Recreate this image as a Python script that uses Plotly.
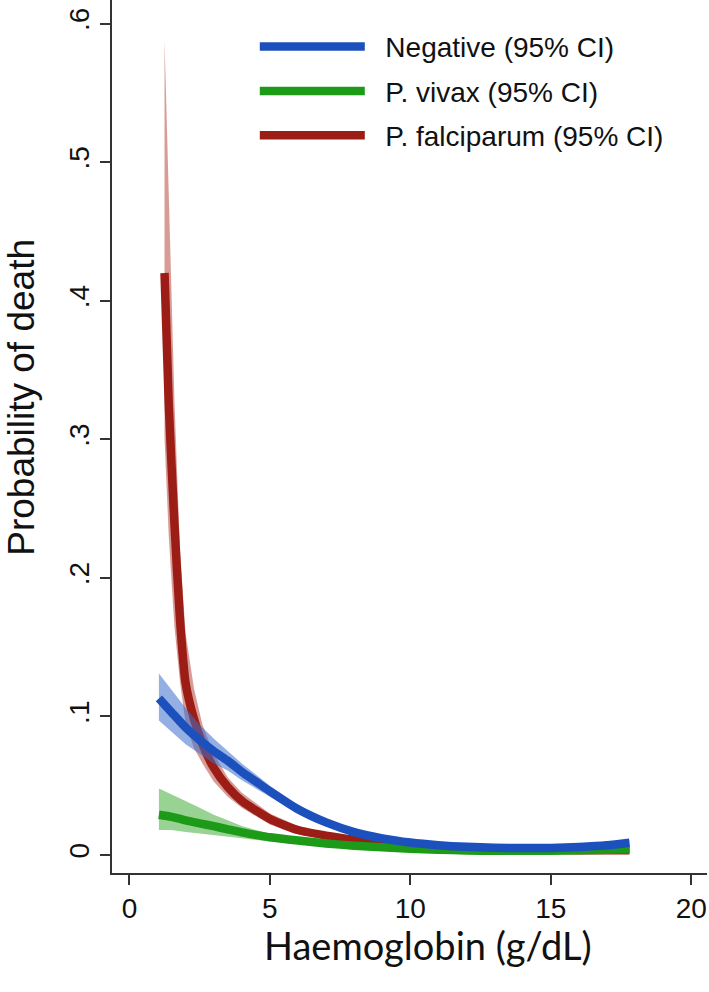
import plotly.graph_objects as go

# ── 数据──
hb_red = [1.25, 1.4, 1.6, 1.8, 2.0, 2.3, 2.6, 3.0, 3.5, 4.0, 5.0, 6.0, 7.0, 8.0, 9.0, 10.0, 12.0, 14.0, 16.0, 17.8]
pf_mean = [0.420, 0.325, 0.240, 0.170, 0.124, 0.098, 0.080, 0.063, 0.049, 0.039, 0.026, 0.018, 0.014, 0.011, 0.0085, 0.007, 0.005, 0.004, 0.0035, 0.0035]
pf_upper = [0.588, 0.470, 0.330, 0.220, 0.160, 0.120, 0.094, 0.073, 0.056, 0.045, 0.030, 0.021, 0.016, 0.0125, 0.0098, 0.008, 0.006, 0.005, 0.0048, 0.0055]
pf_lower = [0.300, 0.230, 0.165, 0.125, 0.095, 0.077, 0.066, 0.053, 0.042, 0.034, 0.022, 0.015, 0.012, 0.0095, 0.0074, 0.006, 0.004, 0.003, 0.0025, 0.002]

hb = [1.05, 1.5, 2.0, 2.5, 3.0, 3.5, 4.0, 4.5, 5.0, 6.0, 7.0, 8.0, 9.0, 10.0, 11.0, 12.0, 13.0, 14.0, 15.0, 16.0, 17.0, 17.8]
neg_mean = [0.113, 0.103, 0.092, 0.083, 0.075, 0.068, 0.060, 0.053, 0.046, 0.033, 0.0235, 0.0165, 0.012, 0.0090, 0.0071, 0.0059, 0.0053, 0.0050, 0.0051, 0.0058, 0.0070, 0.0088]
neg_upper = [0.131, 0.119, 0.106, 0.094, 0.084, 0.075, 0.066, 0.058, 0.050, 0.036, 0.026, 0.0185, 0.0135, 0.0102, 0.0081, 0.0068, 0.0062, 0.006, 0.0061, 0.007, 0.0088, 0.011]
neg_lower = [0.097, 0.089, 0.080, 0.073, 0.066, 0.061, 0.054, 0.048, 0.042, 0.030, 0.021, 0.0145, 0.0105, 0.0078, 0.0061, 0.0050, 0.0045, 0.0042, 0.0042, 0.0047, 0.0055, 0.0068]

pv_mean = [0.029, 0.0275, 0.025, 0.0228, 0.0208, 0.0185, 0.0163, 0.0145, 0.0128, 0.0104, 0.0083, 0.0067, 0.0055, 0.0045, 0.0038, 0.0033, 0.0030, 0.0030, 0.0031, 0.0034, 0.0038, 0.0042]
pv_upper = [0.048, 0.044, 0.039, 0.034, 0.029, 0.025, 0.021, 0.018, 0.0155, 0.0125, 0.0098, 0.008, 0.0066, 0.0055, 0.0047, 0.0041, 0.0038, 0.0038, 0.004, 0.0045, 0.0054, 0.0063]
pv_lower = [0.018, 0.018, 0.0165, 0.0155, 0.0145, 0.0133, 0.012, 0.0108, 0.0097, 0.0083, 0.0067, 0.0055, 0.0045, 0.0037, 0.0031, 0.0026, 0.0023, 0.0023, 0.0023, 0.0025, 0.0027, 0.0029]

y_ticks = [0, 0.1, 0.2, 0.3, 0.4, 0.5, 0.6]
y_ticktext = ["0", ".1", ".2", ".3", ".4", ".5", ".6"]
x_ticks = [0, 5, 10, 15, 20]

# 绘制顺序：红 → 绿 → 蓝（蓝色在最上层）
series = [
    ("P. falciparum (95% CI)", hb_red, pf_mean, pf_upper, pf_lower, "#9c1d15", "rgba(190,90,82,0.6)", "g3"),
    ("P. vivax (95% CI)", hb, pv_mean, pv_upper, pv_lower, "#1c9a18", "rgba(70,175,60,0.55)", "g2"),
    ("Negative (95% CI)", hb, neg_mean, neg_upper, neg_lower, "#1c50bd", "rgba(60,110,205,0.55)", "g1"),
]
legend_rank = {"g1": 1, "g2": 2, "g3": 3}

fig = go.Figure()

for name, x, mean, up, lo, color, band, grp in series:
    # 置信区间带
    fig.add_trace(go.Scatter(
        x=list(x) + list(x)[::-1],
        y=list(up) + list(lo)[::-1],
        fill="toself",
        fillcolor=band,
        line=dict(width=0),
        mode="lines",
        showlegend=False,
        hoverinfo="skip",
        legendgroup=grp,
    ))
    # 预测曲线
    fig.add_trace(go.Scatter(
        x=x,
        y=mean,
        mode="lines",
        line=dict(color=color, width=8.5, shape="spline", smoothing=0.6),
        name="\u00a0\u00a0" + name,
        legendgroup=grp,
        legendrank=legend_rank[grp],
    ))

axis_common = dict(
    showline=True,
    linecolor="#333333",
    linewidth=1.6,
    ticks="outside",
    ticklen=10,
    tickwidth=1.5,
    tickcolor="#333333",
    showgrid=False,
    zeroline=False,
    automargin=False,
)

fig.update_layout(
    width=709,
    height=992,
    paper_bgcolor="white",
    plot_bgcolor="white",
    font=dict(family="Liberation Sans, Arial, sans-serif", color="#111111"),
    margin=dict(l=112, r=2, t=0, b=119),
    xaxis=dict(
        **axis_common,
        range=[-0.62, 20.56],
        tickvals=x_ticks,
        tickfont=dict(size=28),
    ),
    yaxis=dict(
        **axis_common,
        range=[-0.013, 0.617],
        tickvals=y_ticks,
        ticktext=y_ticktext,
        tickangle=-90,
        tickfont=dict(size=28),
    ),
    legend=dict(
        x=0.24,
        y=0.975,
        xanchor="left",
        yanchor="top",
        bgcolor="rgba(0,0,0,0)",
        font=dict(size=28),
        itemwidth=105,
        tracegroupgap=5,
        traceorder="grouped",
    ),
    showlegend=True,
    annotations=[
        dict(text="Haemoglobin (g/dL)", xref="paper", yref="paper",
             x=0.531, y=-0.0825, xanchor="center", yanchor="middle",
             showarrow=False, font=dict(family="Lato, sans-serif", size=38)),
        dict(text="Probability of death", xref="paper", yref="paper",
             x=-0.152, y=0.545, xanchor="center", yanchor="middle",
             textangle=-90, showarrow=False, font=dict(size=37)),
    ],
)

fig.write_html("out.html", config={"displayModeBar": False},
               post_script="document.body.style.margin='0px';")
